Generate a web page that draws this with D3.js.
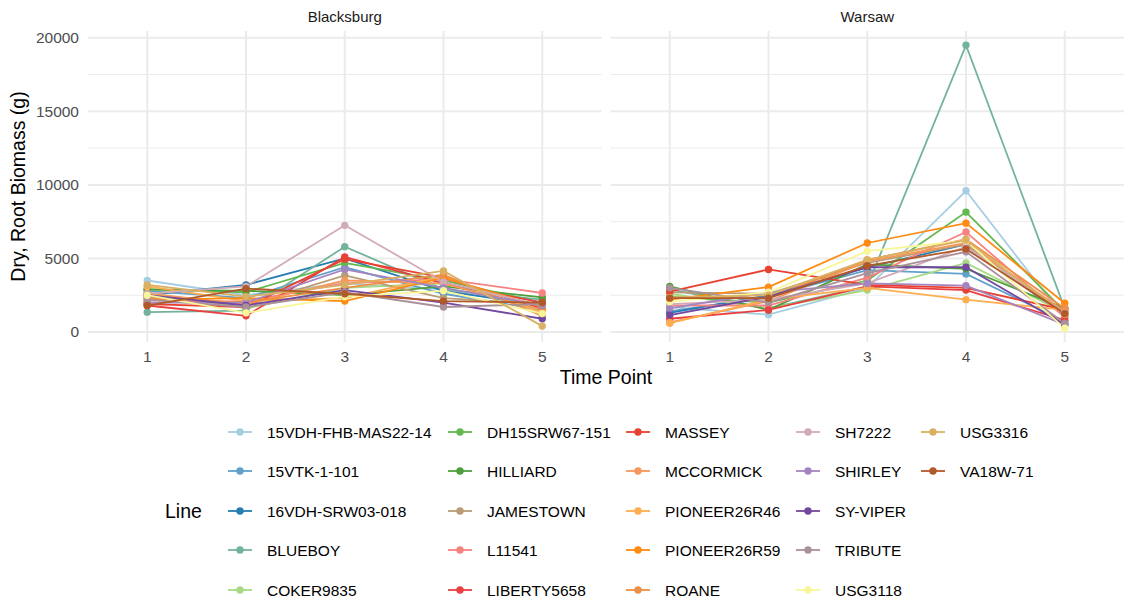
<!DOCTYPE html>
<html>
<head>
<meta charset="utf-8">
<script src="https://cdn.jsdelivr.net/npm/d3@7"></script>
<style>
  html, body { margin: 0; padding: 0; background: #ffffff; }
  svg { display: block; font-family: "Liberation Sans", Arial, sans-serif; }
</style>
</head>
<body>
<svg id="chart" width="1124" height="603"></svg>
<script>
// Root biomass by line, site and time point
const sites = ["Blacksburg", "Warsaw"];
const timePoints = [1, 2, 3, 4, 5];
const yTicks = [0, 5000, 10000, 15000, 20000];
const yMinorTicks = [2500, 7500, 12500, 17500];

const lineNames = [
  "15VDH-FHB-MAS22-14", "15VTK-1-101", "16VDH-SRW03-018", "BLUEBOY", "COKER9835",
  "DH15SRW67-151", "HILLIARD", "JAMESTOWN", "L11541", "LIBERTY5658",
  "MASSEY", "MCCORMICK", "PIONEER26R46", "PIONEER26R59", "ROANE",
  "SH7222", "SHIRLEY", "SY-VIPER", "TRIBUTE", "USG3118",
  "USG3316", "VA18W-71"
];

// values at time points 1..5, one row per line (same order as lineNames)
const blacksburg = [
  [3500, 2500, 3300, 2900, 1700],
  [2800, 2300, 4400, 2600, 1500],
  [2500, 3200, 5000, 2800, 1800],
  [1350, 1450, 5800, 2900, 2200],
  [2700, 1600, 3000, 3300, 1500],
  [2900, 2700, 4700, 3500, 2000],
  [2900, 2800, 2500, 3100, 2350],
  [2400, 1800, 3850, 2300, 1900],
  [2000, 2100, 3300, 3600, 2650],
  [1800, 1100, 5100, 3300, 2000],
  [1900, 1700, 4950, 3700, 1600],
  [2600, 1900, 3500, 3300, 1500],
  [3100, 2100, 2300, 3800, 1300],
  [2200, 2300, 2100, 3700, 1700],
  [2300, 2000, 3000, 3900, 1100],
  [2600, 3100, 7250, 3400, 1800],
  [2000, 2000, 4250, 3000, 1800],
  [2500, 1800, 2850, 2000, 900],
  [2200, 1700, 2700, 1700, 1900],
  [2500, 1300, 2400, 2800, 1250],
  [3200, 2400, 3200, 4150, 400],
  [1800, 2950, 2600, 2100, 2000]
];

const warsaw = [
  [1700, 1180, 3000, 9600, 900],
  [1400, 2400, 4200, 3950, 700],
  [1300, 2500, 4400, 5950, 1100],
  [2900, 1600, 3100, 19500, 1600],
  [2600, 1600, 2850, 4700, 1300],
  [2400, 2000, 3500, 8150, 1400],
  [3100, 1500, 4600, 4300, 1600],
  [2700, 2600, 4700, 5950, 1200],
  [1800, 1800, 3700, 6800, 1000],
  [900, 1500, 3100, 2850, 800],
  [2750, 4250, 3200, 3000, 1500],
  [650, 2100, 4800, 6050, 1400],
  [600, 2200, 3000, 2200, 1500],
  [2200, 3050, 6050, 7400, 1950],
  [2300, 2300, 4900, 6300, 1600],
  [1900, 2200, 3300, 5800, 1300],
  [1600, 2700, 3300, 3150, 500],
  [1150, 2400, 4400, 4400, 500],
  [3000, 2000, 4000, 5450, 600],
  [2050, 2700, 5500, 6200, 250],
  [2350, 2500, 4900, 6250, 1200],
  [2300, 2300, 4500, 5650, 1250]
];

const siteValues = { "Blacksburg": blacksburg, "Warsaw": warsaw };

// 22 colours ramped through the ColorBrewer "Paired" palette
const paired = ["#A6CEE3", "#1F78B4", "#B2DF8A", "#33A02C", "#FB9A99", "#E31A1C",
                "#FDBF6F", "#FF7F00", "#CAB2D6", "#6A3D9A", "#FFFF99", "#B15928"];
const ramp = d3.piecewise(d3.interpolateRgb, paired);
const color = d3.scaleOrdinal()
  .domain(lineNames)
  .range(lineNames.map((d, i) => ramp(i / (lineNames.length - 1))));

const svg = d3.select("#chart");

const panelTop = 31, panelBottom = 342;
const panels = [
  { site: "Blacksburg", x0: 88, x1: 601.5 },
  { site: "Warsaw", x0: 610.5, x1: 1124 }
];

const y = d3.scaleLinear().domain([-680, 20460]).range([panelBottom, panelTop]);

const gridColor = "#EBEBEB";
const tickColor = "#4D4D4D";

const lineGen = (x) => d3.line().x((d, i) => x(timePoints[i])).y(d => y(d));

panels.forEach(p => {
  const x = d3.scaleLinear().domain([0.4, 5.6]).range([p.x0, p.x1]);
  const g = svg.append("g");

  // minor and major grid
  g.selectAll("line.ymin").data(yMinorTicks).join("line")
    .attr("x1", p.x0).attr("x2", p.x1)
    .attr("y1", d => y(d)).attr("y2", d => y(d))
    .attr("stroke", gridColor).attr("stroke-width", 1);
  g.selectAll("line.ymaj").data(yTicks).join("line")
    .attr("x1", p.x0).attr("x2", p.x1)
    .attr("y1", d => y(d)).attr("y2", d => y(d))
    .attr("stroke", gridColor).attr("stroke-width", 2);
  g.selectAll("line.xmaj").data(timePoints).join("line")
    .attr("x1", d => x(d)).attr("x2", d => x(d))
    .attr("y1", panelTop).attr("y2", panelBottom)
    .attr("stroke", gridColor).attr("stroke-width", 2);

  // facet strip label
  g.append("text")
    .attr("x", (p.x0 + p.x1) / 2).attr("y", 21.5)
    .attr("text-anchor", "middle")
    .attr("font-size", 15).attr("fill", "#1A1A1A")
    .text(p.site);

  const vals = siteValues[p.site];
  const lg = lineGen(x);

  g.selectAll("path.series").data(vals).join("path")
    .attr("d", d => lg(d))
    .attr("fill", "none")
    .attr("stroke", (d, i) => color(lineNames[i]))
    .attr("stroke-width", 1.8);

  vals.forEach((row, i) => {
    g.selectAll(null).data(row).join("circle")
      .attr("cx", (d, j) => x(timePoints[j]))
      .attr("cy", d => y(d))
      .attr("r", 3.7)
      .attr("fill", color(lineNames[i]));
  });

  // x axis labels
  g.selectAll("text.xt").data(timePoints).join("text")
    .attr("x", d => x(d)).attr("y", 362)
    .attr("text-anchor", "middle")
    .attr("font-size", 15.5).attr("fill", tickColor)
    .text(d => d);
});

// y axis labels (left panel only)
svg.append("g").selectAll("text").data(yTicks).join("text")
  .attr("x", 79).attr("y", d => y(d) + 5.5)
  .attr("text-anchor", "end")
  .attr("font-size", 15.5).attr("fill", tickColor)
  .text(d => d);

// axis titles
svg.append("text")
  .attr("x", (88 + 1124) / 2).attr("y", 384)
  .attr("text-anchor", "middle")
  .attr("font-size", 19.5).attr("fill", "#000")
  .text("Time Point");

svg.append("text")
  .attr("transform", `translate(25,${(panelTop + panelBottom) / 2}) rotate(-90)`)
  .attr("text-anchor", "middle")
  .attr("font-size", 19.5).attr("fill", "#000")
  .text("Dry, Root Biomass (g)");

// legend
const legendCols = [228, 448, 626, 796, 921];
const legendRows = [432, 471, 511, 550, 590];
const legend = svg.append("g");
legend.append("text")
  .attr("x", 165).attr("y", 511 + 7)
  .attr("font-size", 19.5).attr("fill", "#000")
  .text("Line");

lineNames.forEach((name, i) => {
  const col = Math.floor(i / 5), row = i % 5;
  const lx = legendCols[col], ly = legendRows[row];
  const k = legend.append("g");
  k.append("line")
    .attr("x1", lx).attr("x2", lx + 24)
    .attr("y1", ly).attr("y2", ly)
    .attr("stroke", color(name)).attr("stroke-width", 1.8);
  k.append("circle")
    .attr("cx", lx + 12).attr("cy", ly).attr("r", 3.7)
    .attr("fill", color(name));
  k.append("text")
    .attr("x", lx + 39).attr("y", ly + 5.5)
    .attr("font-size", 15.5).attr("fill", "#000")
    .text(name);
});
</script>
</body>
</html>
